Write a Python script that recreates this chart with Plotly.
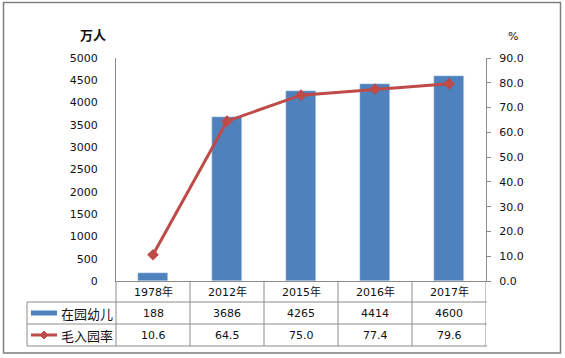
import plotly.graph_objects as go

categories = ["1978年", "2012年", "2015年", "2016年", "2017年"]
children = [188, 3686, 4265, 4414, 4600]
rate = [10.6, 64.5, 75.0, 77.4, 79.6]
series_names = ["在园幼儿", "毛入园率"]
left_title = "万人"
right_title = "%"

W, H = 565, 358
L, R, T, B = 116, 486, 58, 281  # plot area in px

def px(x):
    return (x - L) / (R - L)

def py(y):
    return (B - y) / (B - T)

BLUE = "#4F81BD"
RED = "#BE4B48"
GRID = "#8C8C8C"
FONT = "DejaVu Sans, Noto Sans CJK SC, sans-serif"
CJK = "Noto Sans CJK SC, sans-serif"

fig = go.Figure()
fig.add_trace(go.Bar(x=categories, y=children, marker_color=BLUE, width=0.41,
                     name=series_names[0], yaxis="y"))
fig.add_trace(go.Scatter(x=categories, y=rate, yaxis="y2", mode="lines+markers",
                         name=series_names[1],
                         line=dict(color=RED, width=3),
                         marker=dict(symbol="diamond", size=9, color=RED)))

shapes = []
line = dict(color=GRID, width=1)
for yy in (302, 324, 346):
    shapes.append(dict(type="line", xref="paper", yref="paper",
                       x0=px(27), x1=px(487), y0=py(yy), y1=py(yy), line=line))
shapes.append(dict(type="line", xref="paper", yref="paper",
                   x0=px(27), x1=px(27), y0=py(302), y1=py(346), line=line))
shapes.append(dict(type="line", xref="paper", yref="paper",
                   x0=0, x1=0, y0=0, y1=py(346), line=line))
for i in range(len(categories)):
    shapes.append(dict(type="line", xref="x", yref="paper",
                       x0=i + 0.5, x1=i + 0.5, y0=0, y1=py(346), line=line))
shapes.append(dict(type="rect", xref="paper", yref="paper",
                   x0=px(3.5), x1=px(560.5), y0=py(2.5), y1=py(353),
                   line=dict(color="#7F7F7F", width=1.5)))
shapes.append(dict(type="rect", xref="paper", yref="paper",
                   x0=px(31), x1=px(57), y0=py(310.5), y1=py(315.5),
                   fillcolor=BLUE, line=dict(width=0)))
shapes.append(dict(type="line", xref="paper", yref="paper",
                   x0=px(31), x1=px(57), y0=py(335), y1=py(335),
                   line=dict(color=RED, width=3)))
shapes.append(dict(type="path", xref="paper", yref="paper",
                   path=f"M {px(44)},{py(331)} L {px(48)},{py(335)} L {px(44)},{py(339)} L {px(40)},{py(335)} Z",
                   fillcolor=RED, line=dict(color=RED, width=1)))

def note(x, y, text, size, family, xref="paper", xanchor="center"):
    return dict(x=x, xref=xref, y=y, yref="paper", text=text, showarrow=False,
                xanchor=xanchor, yanchor="middle",
                font=dict(size=size, color="#111", family=family))

ann = []
for c, v, r in zip(categories, children, rate):
    ann.append(note(c, py(291.5), c, 11, FONT, xref="x"))
    ann.append(note(c, py(313), str(v), 11, FONT, xref="x"))
    ann.append(note(c, py(335), f"{r:.1f}", 11, FONT, xref="x"))
ann.append(note(px(59), py(313), series_names[0], 13, CJK, xanchor="left"))
ann.append(note(px(59), py(335), series_names[1], 13, CJK, xanchor="left"))
ann.append(note(px(93), py(35), f"<b>{left_title}</b>", 13, CJK))
ann.append(note(px(513), py(37), right_title, 11, FONT))

fig.update_layout(
    width=W, height=H,
    margin=dict(l=L, r=W - R, t=T, b=H - B, pad=0, autoexpand=False),
    paper_bgcolor="white", plot_bgcolor="white",
    showlegend=False,
    bargap=0,
    xaxis=dict(type="category", range=[-0.5, 4.5], showticklabels=False,
               showline=True, linecolor=GRID, linewidth=1, ticks="",
               showgrid=False, zeroline=False, automargin=False),
    yaxis=dict(range=[0, 5000], dtick=500, showline=True, linecolor=GRID,
               ticks="", showgrid=False,
               zeroline=False, ticklabelstandoff=15, automargin=False,
               tickfont=dict(size=11, color="#111", family=FONT)),
    yaxis2=dict(range=[0, 90], dtick=10, tickformat=".1f", overlaying="y", side="right",
                showline=True, linecolor=GRID, ticks="outside", ticklen=4, tickcolor=GRID,
                showgrid=False, zeroline=False, ticklabelstandoff=6, automargin=False,
                tickfont=dict(size=11, color="#111", family=FONT)),
    shapes=shapes,
    annotations=ann,
)

fig.write_html("out.html", config={"displayModeBar": False},
               post_script="document.body.style.margin='0';document.body.style.overflow='hidden';")
